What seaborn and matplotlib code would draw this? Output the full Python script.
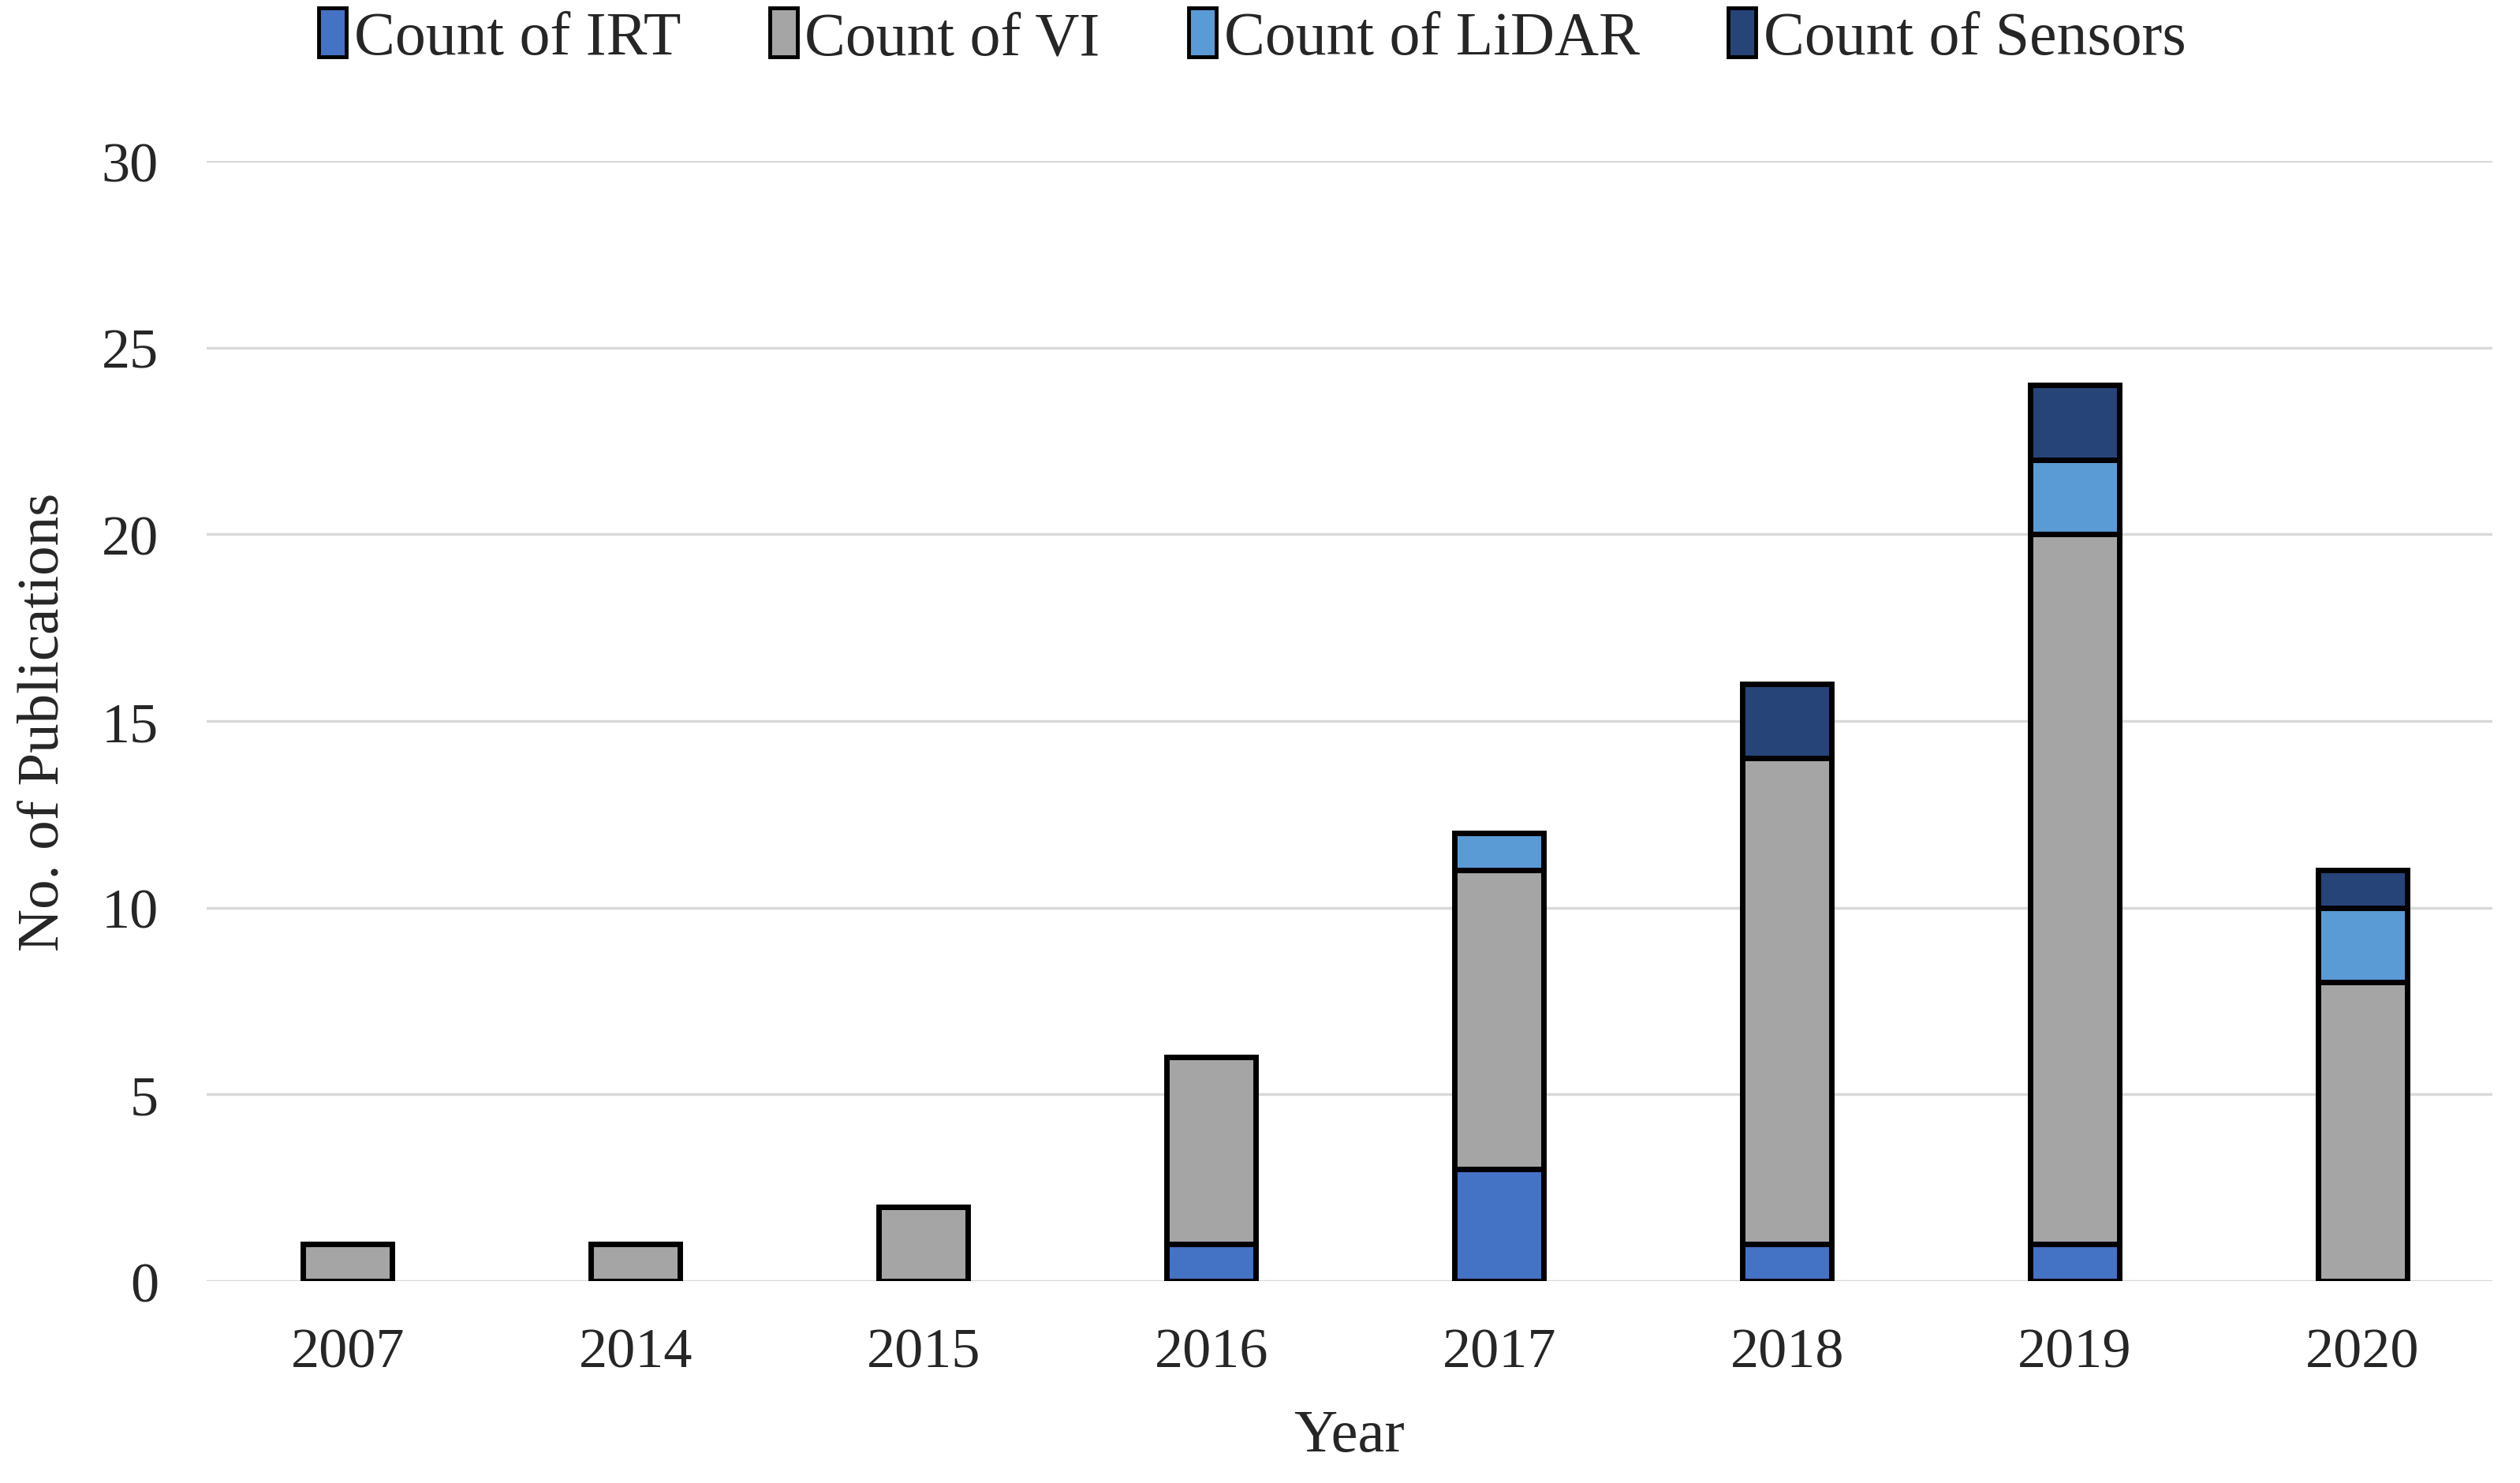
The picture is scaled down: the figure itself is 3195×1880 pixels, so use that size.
import numpy as np
import pandas as pd
import matplotlib
matplotlib.use('Agg')
import matplotlib.pyplot as plt
import seaborn as sns
from matplotlib.patches import Patch

years = ['2007', '2014', '2015', '2016', '2017', '2018', '2019', '2020']
irt = [0, 0, 0, 1, 3, 1, 1, 0]
vi = [1, 1, 2, 5, 8, 13, 19, 8]
lidar = [0, 0, 0, 0, 1, 0, 2, 2]
sensors = [0, 0, 0, 0, 0, 2, 2, 1]

series = ['Count of IRT', 'Count of VI', 'Count of LiDAR', 'Count of Sensors']
colors = ['#4472C4', '#A5A5A5', '#5B9BD5', '#264478']

sns.set_style('white')
plt.rcParams['font.family'] = ['Liberation Serif', 'DejaVu Serif']

fig = plt.figure(figsize=(31.95, 18.81), dpi=100)
ax = fig.add_axes([0.082, 0.136, 0.907, 0.755])

bottom = np.zeros(len(years))
for name, vals, col in zip(series, [irt, vi, lidar, sensors], colors):
    df = pd.DataFrame({'Year': years, 'Count': vals})
    sns.barplot(data=df, x='Year', y='Count', order=years, color=col,
                bottom=bottom, width=0.31, edgecolor='black', linewidth=5,
                saturation=1, ax=ax, zorder=3)
    bottom = bottom + np.array(vals)

ax.set_ylim(0, 30)
ax.set_xlim(-0.49, 7.45)
ax.set_yticks(range(0, 31, 5))
ax.yaxis.grid(True, color='#D9D9D9', linewidth=2.5, zorder=0)
ax.set_axisbelow(True)
for s in ax.spines.values():
    s.set_visible(False)
ax.tick_params(axis='both', length=0, labelsize=52)
ax.tick_params(axis='y', pad=44)
ax.tick_params(axis='x', pad=42)
ax.set_xlabel('Year', fontsize=55, labelpad=28)
ax.set_ylabel('No. of Publications', fontsize=54, labelpad=28)

handles = [Patch(facecolor=c, edgecolor='black', linewidth=3.5) for c in colors]
fig.legend(handles, series, loc='center', bbox_to_anchor=(0.497, 0.974), ncol=4,
           frameon=False, fontsize=56, handlelength=0.45, handleheight=0.85,
           handletextpad=0.12, columnspacing=1.45)

fig.savefig('out.png', dpi=100)
